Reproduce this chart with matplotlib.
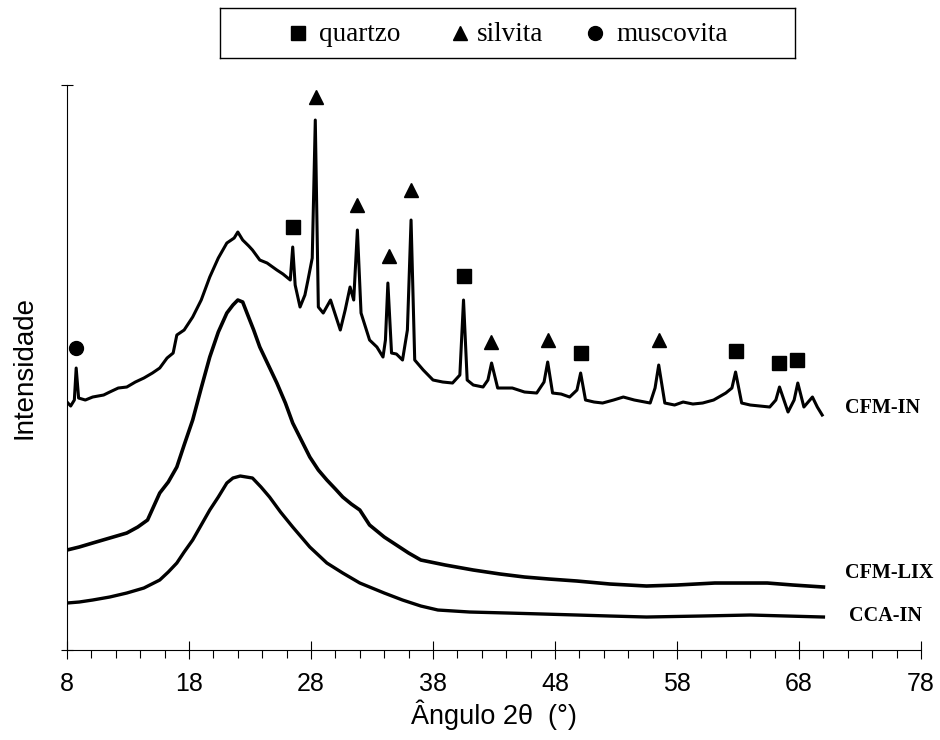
import matplotlib
matplotlib.use("Agg")
import matplotlib.pyplot as plt

# 2-theta (deg) and intensity (a.u.)
tt_cfm_in = [8.0, 8.3, 8.6, 8.75, 8.95, 9.5, 10.1, 11.0, 11.5, 12.2, 12.9, 13.6,
             14.3, 15.0, 15.6, 16.2, 16.7, 17.0, 17.6, 18.3, 19.0, 19.7, 20.4,
             21.1, 21.7, 22.0, 22.4, 22.9, 23.2, 23.8, 24.4, 25.2, 25.7, 26.0,
             26.3, 26.5, 26.7, 27.1, 27.5, 27.75, 28.1, 28.35, 28.6, 29.0, 29.6,
             30.0, 30.4, 30.8, 31.2, 31.5, 31.8, 32.1, 32.8, 33.4, 33.9, 34.1,
             34.3, 34.6, 35.0, 35.5, 35.9, 36.2, 36.5, 37.2, 38.0, 38.8, 39.6,
             40.2, 40.5, 40.8, 41.3, 42.1, 42.5, 42.8, 43.3, 44.5, 45.5, 46.5,
             47.1, 47.4, 47.8, 48.5, 49.2, 49.8, 50.1, 50.5, 51.2, 51.9, 52.8,
             53.6, 54.5, 55.8, 56.2, 56.5, 57.0, 57.8, 58.5, 59.3, 60.1, 61.0,
             62.0, 62.5, 62.8, 63.3, 64.0, 64.8, 65.6, 66.1, 66.4, 67.1, 67.6,
             67.9, 68.4, 69.1, 69.5, 69.9]
cfm_in = [248, 244, 250, 282, 252, 250, 253, 255, 258, 262, 263, 268,
          272, 277, 282, 292, 297, 315, 320, 333, 350, 373, 392,
          407, 412, 418, 410, 404, 400, 390, 387, 380, 376, 373,
          370, 403, 365, 343, 355, 370, 392, 530, 343, 337, 350,
          335, 320, 340, 363, 350, 420, 337, 310, 303, 293, 310,
          367, 297, 296, 290, 320, 430, 290, 280, 270, 268, 267,
          275, 350, 270, 265, 263, 270, 287, 262, 262, 258, 257,
          268, 288, 257, 256, 253, 260, 277, 250, 248, 247, 250,
          253, 250, 247, 262, 285, 247, 245, 248, 246, 247, 250,
          257, 262, 278, 247, 245, 244, 243, 250, 263, 238, 250,
          267, 243, 253, 243, 235]

tt_cfm_lix = [8.0, 9.0, 10.1, 11.5, 12.9, 13.8, 14.6, 15.6, 16.3, 17.0, 17.6,
              18.3, 19.0, 19.7, 20.4, 21.1, 21.6, 22.0, 22.4, 22.75, 23.3, 23.8,
              24.5, 25.2, 25.9, 26.5, 27.2, 27.9, 28.6, 29.3, 30.0, 30.6, 31.3,
              32.0, 32.8, 34.0, 35.0, 36.0, 37.0, 39.0, 41.3, 43.5, 45.5, 47.5,
              49.8, 52.5, 55.5, 58.0, 61.1, 63.0, 65.4, 67.5, 70.0]
cfm_lix = [100, 103, 107, 112, 117, 123, 130, 157, 168, 183, 205,
           230, 262, 293, 318, 337, 345, 350, 348, 337, 320, 303,
           285, 267, 247, 227, 210, 193, 180, 170, 161, 153, 146,
           140, 125, 113, 105, 97, 90, 85, 80, 76, 73, 71,
           69, 66, 64, 65, 67, 67, 67, 65, 63]

tt_cca_in = [8.0, 9.0, 10.1, 11.5, 12.9, 14.3, 15.6, 16.3, 17.0, 17.6, 18.3,
             19.0, 19.7, 20.4, 21.1, 21.6, 22.2, 22.7, 23.2, 23.9, 24.6, 25.5,
             26.5, 27.2, 27.9, 28.6, 29.3, 30.6, 32.0, 32.8, 34.0, 35.5, 37.0,
             38.4, 41.0, 44.1, 47.0, 49.8, 52.5, 55.5, 60.0, 64.0, 67.0, 70.0]
cca_in = [47, 48, 50, 53, 57, 62, 70, 78, 87, 98, 110,
          125, 140, 153, 167, 172, 174, 173, 172, 163, 153, 138,
          123, 113, 103, 95, 87, 77, 67, 63, 57, 50, 44,
          40, 38, 37, 36, 35, 34, 33, 34, 35, 34, 33]

# phase markers (position, height)
quartzo_x = [26.5, 40.5, 50.1, 62.8, 66.4, 67.8]
quartzo_y = [423, 374, 297, 299, 287, 290]
silvita_x = [28.4, 31.8, 34.4, 36.2, 42.75, 47.4, 56.5]
silvita_y = [553, 445, 394, 460, 308, 310, 310]
muscovita_x = [8.74]
muscovita_y = [302]

sans = ['Liberation Sans', 'DejaVu Sans']
serif = ['Liberation Serif', 'DejaVu Serif']

fig = plt.figure(figsize=(9.4, 7.4), dpi=100)
ax = fig.add_axes([0.0713, 0.1216, 0.9085, 0.7635])

ax.plot(tt_cfm_in, cfm_in, color='black', lw=2.2)
ax.plot(tt_cfm_lix, cfm_lix, color='black', lw=2.6)
ax.plot(tt_cca_in, cca_in, color='black', lw=2.4)

ax.plot(quartzo_x, quartzo_y, 's', color='black', ms=10, ls='none')
ax.plot(silvita_x, silvita_y, '^', color='black', ms=10, ls='none')
ax.plot(muscovita_x, muscovita_y, 'o', color='black', ms=10, ls='none')

ax.text(71.8, 242, 'CFM-IN', family=serif, weight='bold', fontsize=14.5, va='center')
ax.text(71.8, 77, 'CFM-LIX', family=serif, weight='bold', fontsize=14.5, va='center')
ax.text(72.1, 34, 'CCA-IN', family=serif, weight='bold', fontsize=14.5, va='center')

ax.set_xlim(8, 78)
ax.set_ylim(0, 565)
ax.set_xticks(range(8, 79, 10))
ax.set_xticks(range(8, 79, 2), minor=True)
ax.set_yticks([0, 565])
ax.set_yticklabels([])
ax.tick_params(axis='x', which='major', direction='inout', length=13, width=0.8,
               labelsize=18, pad=9)
ax.tick_params(axis='x', which='minor', direction='out', length=6, width=0.8)
ax.tick_params(axis='y', direction='inout', length=9, width=0.8)
for lab in ax.get_xticklabels():
    lab.set_family(sans)
for s in ['top', 'right']:
    ax.spines[s].set_visible(False)
for s in ['left', 'bottom']:
    ax.spines[s].set_linewidth(0.8)

ax.set_xlabel('Ângulo 2θ  (°)', family=sans, fontsize=19.5)
ax.xaxis.set_label_coords(0.5, -0.088)
ax.set_ylabel('Intensidade', family=sans, fontsize=20)
ax.yaxis.set_label_coords(-0.035, 0.5)

# legend box
lax = fig.add_axes([0.234, 0.9216, 0.612, 0.0676])
lax.set_xlim(0, 1)
lax.set_ylim(0, 1)
lax.set_xticks([])
lax.set_yticks([])
for s in lax.spines.values():
    s.set_linewidth(1.0)
lax.plot([0.1357], [0.5], 's', color='black', ms=10)
lax.text(0.172, 0.47, 'quartzo', family=serif, fontsize=19.5, va='center')
lax.plot([0.4174], [0.5], '^', color='black', ms=10)
lax.text(0.447, 0.47, 'silvita', family=serif, fontsize=19.5, va='center')
lax.plot([0.6522], [0.5], 'o', color='black', ms=10)
lax.text(0.689, 0.47, 'muscovita', family=serif, fontsize=19.5, va='center')

fig.savefig('out.png', dpi=100)
